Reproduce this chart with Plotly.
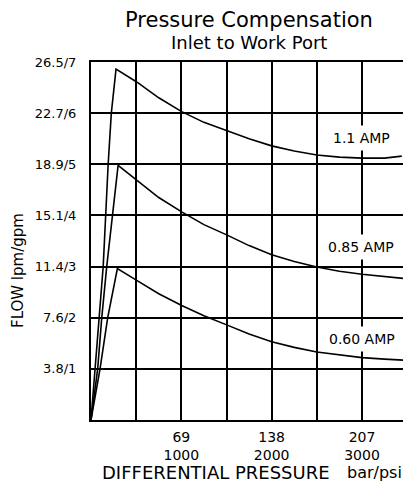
import plotly.graph_objects as go

# ---- data (psi, gpm) ----
psi_11 = [0, 45, 85, 135, 190, 225, 277, 506, 750, 1004, 1250, 1502, 1750, 2000, 2250, 2500, 2750, 3000, 3250, 3440]
gpm_11 = [0, 1.0, 2.0, 3.0, 5.0, 6.0, 6.86, 6.61, 6.30, 6.03, 5.82, 5.66, 5.50, 5.36, 5.26, 5.18, 5.14, 5.12, 5.12, 5.16]

psi_085 = [0, 74, 119, 174, 300, 506, 750, 1004, 1250, 1502, 1750, 2000, 2250, 2500, 2750, 3000, 3250, 3454]
gpm_085 = [0, 1.0, 2.0, 3.0, 4.98, 4.69, 4.35, 4.07, 3.82, 3.62, 3.41, 3.23, 3.10, 2.99, 2.91, 2.85, 2.80, 2.77]

psi_060 = [0, 100, 185, 292, 506, 750, 1004, 1250, 1502, 1750, 2000, 2250, 2500, 2750, 3000, 3250, 3454]
gpm_060 = [0, 1.0, 2.0, 2.96, 2.73, 2.47, 2.24, 2.04, 1.86, 1.68, 1.53, 1.42, 1.33, 1.27, 1.22, 1.19, 1.17]

series_names = ["1.1 AMP", "0.85 AMP", "0.60 AMP"]
label_psi = [2989, 2989, 3000]
label_gpm = [5.52, 3.38, 1.59]

x_tickvals = [0, 500, 1000, 1500, 2000, 2500, 3000]
x_ticktext = ["", "", "69<br>1000", "", "138<br>2000", "", "207<br>3000"]
y_tickvals = [0, 1, 2, 3, 4, 5, 6, 7]
y_ticktext = ["", "3.8/1", "7.6/2", "11.4/3", "15.1/4", "18.9/5", "22.7/6", "26.5/7"]

title_lines = ["Pressure Compensation", "Inlet to Work Port"]
x_title = "DIFFERENTIAL PRESSURE"
x_unit = "bar/psi"
y_title = "FLOW lpm/gpm"

FONT = "DejaVu Sans"

fig = go.Figure()
for xs, ys, nm in [(psi_11, gpm_11, series_names[0]),
                   (psi_085, gpm_085, series_names[1]),
                   (psi_060, gpm_060, series_names[2])]:
    fig.add_trace(go.Scatter(x=xs, y=ys, mode="lines", name=nm,
                             line=dict(color="black", width=1.6),
                             showlegend=False, hoverinfo="skip"))

annotations = []
for nm, xv, yv in zip(series_names, label_psi, label_gpm):
    annotations.append(dict(x=xv, y=yv, xref="x", yref="y", text=nm, showarrow=False,
                            font=dict(family=FONT, size=14, color="black"),
                            bgcolor="white", borderpad=4, xanchor="center", yanchor="middle"))

annotations += [
    dict(x=0.508, y=1.118, xref="paper", yref="paper", text=title_lines[0], showarrow=False,
         font=dict(family=FONT, size=21, color="black"), xanchor="center", yanchor="middle"),
    dict(x=0.506, y=1.054, xref="paper", yref="paper", text=title_lines[1], showarrow=False,
         font=dict(family=FONT, size=18, color="black"), xanchor="center", yanchor="middle"),
    dict(x=-0.234, y=0.419, xref="paper", yref="paper", text=y_title, showarrow=False,
         textangle=-90, font=dict(family=FONT, size=15, color="black"),
         xanchor="center", yanchor="middle"),
    dict(x=0.400, y=-0.1466, xref="paper", yref="paper", text=x_title, showarrow=False,
         font=dict(family=FONT, size=18, color="black"), xanchor="center", yanchor="middle"),
    dict(x=0.814, y=-0.1466, xref="paper", yref="paper", text=x_unit, showarrow=False,
         font=dict(family=FONT, size=16, color="black"), xanchor="left", yanchor="middle"),
]

fig.update_layout(
    width=403, height=487,
    margin=dict(l=91, r=0, t=62, b=67),
    paper_bgcolor="white", plot_bgcolor="white",
    annotations=annotations,
    xaxis=dict(range=[0, 3454], tickvals=x_tickvals, ticktext=x_ticktext,
               showgrid=True, gridcolor="black", gridwidth=2, zeroline=False,
               showline=True, linecolor="black", linewidth=2, mirror=True,
               ticks="", ticklabelstandoff=3,
               tickfont=dict(family=FONT, size=14, color="black"),
               fixedrange=True),
    yaxis=dict(range=[0, 7], tickvals=y_tickvals, ticktext=y_ticktext,
               showgrid=True, gridcolor="black", gridwidth=2, zeroline=False,
               showline=True, linecolor="black", linewidth=2, mirror=False,
               ticks="", ticklabelstandoff=10,
               tickfont=dict(family=FONT, size=13, color="black"),
               fixedrange=True),
)

fig.write_html("out.html",
               config={"displayModeBar": False, "staticPlot": True},
               post_script="document.body.style.margin='0';document.body.style.padding='0';document.body.style.overflow='hidden';")
